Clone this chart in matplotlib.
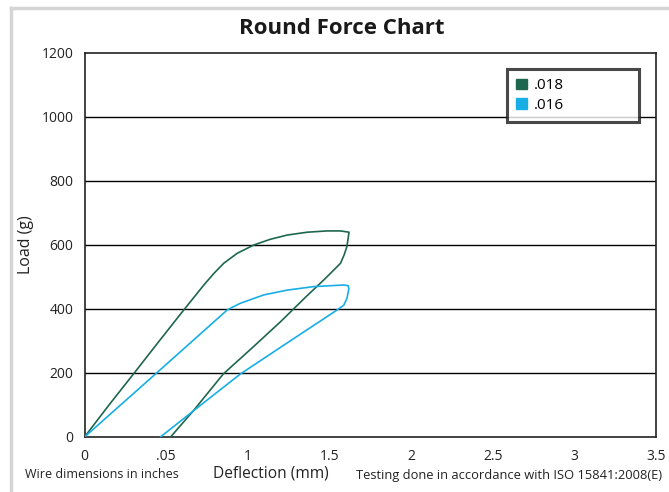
import matplotlib
matplotlib.use("Agg")
import matplotlib.pyplot as plt
from matplotlib.lines import Line2D
from matplotlib.patches import Patch

plt.rcParams['font.family'] = ['Open Sans', 'DejaVu Sans']

# ---- data ----
title = "Round Force Chart"
series_names = [".018", ".016"]
colors = ["#1e6650", "#17aee6"]

# .018 wire: loading then unloading (deflection mm, load g)
x018 = [0, 0.15, 0.30, 0.45, 0.608, 0.731, 0.792, 0.853, 0.935, 1.037, 1.139, 1.241, 1.364,
        1.486, 1.568, 1.62,
        1.607, 1.59, 1.568, 1.527, 1.47, 1.36, 1.20, 1.03, 0.85, 0.67, 0.527]
y018 = [0, 100, 197, 295, 397, 475, 511, 543, 574, 600, 618, 631, 640,
        644, 644, 640,
        595, 569, 543, 522, 493, 440, 360, 280, 197, 84, 0]

# .016 wire: loading then unloading
x016 = [0, 0.435, 0.874, 0.904, 0.955, 1.098, 1.241, 1.404, 1.588, 1.615, 1.619,
        1.607, 1.588, 1.547, 1.25, 0.955, 0.70, 0.465]
y016 = [0, 197, 397, 405, 418, 444, 459, 470, 475, 473, 463,
        433, 412, 397, 297, 197, 95, 0]

xticks = [0, 0.5, 1, 1.5, 2, 2.5, 3, 3.5]
xticklabels = ["0", ".05", "1", "1.5", "2", "2.5", "3", "3.5"]
yticks = [0, 200, 400, 600, 800, 1000, 1200]

fig = plt.figure(figsize=(6.69, 4.92), dpi=100)
ax = fig.add_axes([84.5/669, 1-437/492, (656-84.5)/669, (437-53)/492])

ax.plot(x018, y018, color=colors[0], lw=1.2, zorder=3, solid_joinstyle="round")
ax.plot(x016, y016, color=colors[1], lw=1.2, zorder=3, solid_joinstyle="round")

ax.set_xlim(0, 3.5)
ax.set_ylim(0, 1200)
ax.set_xticks(xticks)
ax.set_xticklabels(xticklabels)
ax.set_yticks(yticks)
ax.tick_params(length=0, labelsize=10, colors="#222222", pad=8)
ax.tick_params(axis='x', pad=9)
for y in yticks[1:-1]:
    ax.axhline(y, color="black", lw=1.0, zorder=1)
for s in ax.spines.values():
    s.set_color("#222222")
    s.set_linewidth(1.2)

ax.set_ylabel("Load (g)", fontsize=11.5, color="#222222", labelpad=5)

handles = [Patch(facecolor=c, edgecolor=c) for c in colors]
leg = ax.legend(handles, series_names, loc="upper left",
                bbox_to_anchor=(0.739, 0.826, 0.231, 0.132), bbox_transform=ax.transAxes,
                mode="expand", borderaxespad=0, fancybox=False, frameon=True,
                fontsize=11, handlelength=0.7, handleheight=0.7, handletextpad=0.5,
                labelspacing=0.3, borderpad=0.6)
leg.get_frame().set_edgecolor("#1a1a1a")
leg.get_frame().set_linewidth(2.2)

fig.text(342/669, 1-28/492, title, ha="center", va="center",
         fontsize=16, fontweight="bold", color="#1a1a1a")

fig.text(102/669, 1-475/492, "Wire dimensions in inches", ha="center", va="center",
         fontsize=9, color="#222222")
fig.text(271/669, 1-474/492, "Deflection (mm)", ha="center", va="center",
         fontsize=11.2, color="#222222")
fig.text(509/669, 1-475/492, "Testing done in accordance with ISO 15841:2008(E)",
         ha="center", va="center", fontsize=9.3, color="#222222")

# light gray outer frame
fig.add_artist(Line2D([11/669, 11/669], [0, 1-8/492], color="#d5d5d5", lw=2.5,
                      transform=fig.transFigure))
fig.add_artist(Line2D([11/669, 1], [1-8/492, 1-8/492], color="#d5d5d5", lw=2.5,
                      transform=fig.transFigure))

fig.savefig("out.png", dpi=100)
